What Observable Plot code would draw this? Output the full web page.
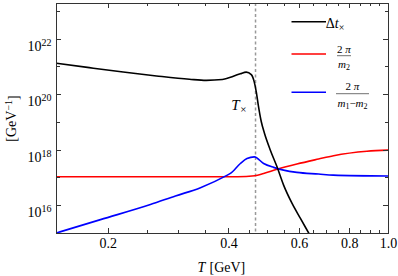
<!DOCTYPE html>
<html><head><meta charset="utf-8">
<script src="https://cdn.jsdelivr.net/npm/d3@7"></script>
<script src="https://cdn.jsdelivr.net/npm/@observablehq/plot@0.6"></script>
<style>body{margin:0;background:#fff}</style>
</head><body><div id="chart"></div>
<script>
// ---- data ----
const Tcross = 0.466;
const TcrossLabelY = 4.2e19;

const dtT = [0.1486, 0.1794, 0.2179, 0.2638, 0.3188, 0.3512, 0.3853, 0.4103, 0.4270, 0.4418, 0.4548, 0.4627, 0.4681, 0.4734, 0.4817, 0.4905, 0.5074, 0.5272, 0.5475, 0.5744, 0.6026, 0.6317, 0.66];
const dtV = [1.35e21, 9.33e20, 6.46e20, 4.68e20, 3.55e20, 3.24e20, 3.47e20, 4.57e20, 5.62e20, 6.46e20, 5.25e20, 2.82e20, 1.23e20, 4.17e19, 1.05e19, 4.07e18, 1.0e18, 2.51e17, 5.5e16, 1.23e16, 3.55e15, 1.07e15, 3.5e14];

const redT = [0.1486, 0.25, 0.35, 0.42, 0.4643, 0.4882, 0.5272, 0.5909, 0.6692, 0.7294, 0.8835, 1.0];
const redV = [1.1e17, 1.1e17, 1.1e17, 1.1e17, 1.2e17, 1.45e17, 2.04e17, 3.16e17, 4.79e17, 6.31e17, 9.12e17, 1.0e18];

const blueT = [0.1486, 0.1913, 0.2548, 0.2942, 0.3397, 0.3964, 0.4034, 0.4271, 0.4437, 0.4628, 0.4882, 0.5171, 0.5475, 0.5909, 0.6692, 0.7282, 1.0];
const blueV = [1.05e15, 3.16e15, 1.10e16, 2.24e16, 4.47e16, 1.26e17, 1.45e17, 3.31e17, 5.01e17, 5.75e17, 3.31e17, 2.40e17, 1.91e17, 1.58e17, 1.38e17, 1.26e17, 1.17e17];

const xMajor = [0.2, 0.4, 0.6, 0.8, 1.0];
const xTickLabels = ["0.2", "0.4", "0.6", "0.8", "1.0"];
const xMinor = [0.25, 0.3, 0.35, 0.45, 0.5, 0.55, 0.65, 0.7, 0.75, 0.85, 0.9, 0.95];
const yLabeled = [1e16, 1e18, 1e20, 1e22];
const yMinor = [1e17, 1e19, 1e21, 1e23];
const xDomain = [0.1486, 1.0];
const yDomain = [1e15, 1.9e23];

// ---- layout ----
const W = 398, H = 276, mL = 56, mR = 10, mT = 3, mB = 43;
const frameCol = "#333";
const serif = '"Liberation Serif", "Times New Roman", Times, serif';

const rows = (T, V) => T.map((t, i) => ({T: t, v: V[i]}));

const svg = Plot.plot({
  width: W, height: H,
  marginLeft: mL, marginRight: mR, marginTop: mT, marginBottom: mB,
  style: {fontFamily: serif, fontSize: "14px", color: "#000", background: "#fff"},
  x: {type: "log", domain: xDomain, axis: null},
  y: {type: "log", domain: yDomain},
  marks: [
    Plot.ruleX([Tcross], {stroke: "#999", strokeWidth: 1.5, strokeDasharray: "3,2.5"}),
    Plot.line(rows(redT, redV), {x: "T", y: "v", stroke: "#ff0000", strokeWidth: 1.6, curve: "monotone-x", clip: true}),
    Plot.line(rows(blueT, blueV), {x: "T", y: "v", stroke: "#0000ff", strokeWidth: 1.6, curve: "monotone-x", clip: true}),
    Plot.line(rows(dtT, dtV), {x: "T", y: "v", stroke: "#000", strokeWidth: 1.6, curve: "monotone-x", clip: true}),
    Plot.text([{x: Tcross, y: TcrossLabelY}], {x: "x", y: "y", text: () => "T", fontStyle: "italic", fontSize: 15, textAnchor: "end", dx: -16}),
    Plot.text([{x: Tcross, y: TcrossLabelY}], {x: "x", y: "y", text: () => "×", fontSize: 11, textAnchor: "end", dx: -9, dy: 4}),
    Plot.frame({stroke: frameCol}),
    // x tick labels
    Plot.text(xMajor, {x: d => d, text: (d, i) => xTickLabels[i], frameAnchor: "bottom", lineAnchor: "top", dy: 5, fontSize: 14, fill: "#000"}),
    // x axis label: italic T, then [GeV]
    Plot.text(["T"], {text: d => d, frameAnchor: "bottom", textAnchor: "start", lineAnchor: "middle", dx: -25, dy: 34, fontSize: 14, fontStyle: "italic", fill: "#000"}),
    Plot.text(["[GeV]"], {text: d => d, frameAnchor: "bottom", textAnchor: "start", lineAnchor: "middle", dx: -13, dy: 34, fontSize: 14, fill: "#000"}),
    Plot.axisY(yLabeled, {tickSize: 0, tickPadding: 5, tickFormat: d => "10^" + Math.round(Math.log10(d)), label: "[GeV-1]", labelAnchor: "center", labelOffset: 50, labelArrow: "none", fontSize: 14})
  ]
});
document.getElementById("chart").appendChild(svg);

const s = d3.select(svg);
const xs = svg.scale("x"), ys = svg.scale("y");
const fx0 = mL, fx1 = W - mR, fy0 = mT, fy1 = H - mB;

// ---- inward frame ticks on all four sides (positions from Plot's scales) ----
const tg = s.append("g").attr("shape-rendering", "crispEdges");
const seg = (x1, y1, x2, y2) => tg.append("path")
  .attr("d", `M${x1},${y1}L${x2},${y2}`)
  .attr("stroke", frameCol).attr("stroke-width", 1.1).attr("fill", "none");
const xt = (vals, len) => vals.forEach(v => {
  const px = Math.round(xs.apply(v)) + 0.5;
  seg(px, fy1, px, fy1 - len);
  seg(px, fy0, px, fy0 + len);
});
const yt = (vals, len) => vals.forEach(v => {
  const py = Math.round(ys.apply(v)) + 0.5;
  seg(fx0, py, fx0 + len, py);
  seg(fx1, py, fx1 - len, py);
});
xt(xMajor, 5); xt(xMinor, 3);
yt(yLabeled, 5); yt(yMinor, 3.5);

// ---- typographic touches: superscripts ----
s.selectAll('g[aria-label="y-axis tick label"] text').each(function () {
  const [b, e] = this.textContent.split("^");
  this.textContent = "";
  d3.select(this).append("tspan").text(b);
  d3.select(this).append("tspan").attr("dy", "-0.5em").attr("font-size", 10).text(e);
  d3.select(this).attr("dy", "0.5em");
});
s.selectAll('g[aria-label="y-axis label"] text').each(function () {
  this.textContent = "";
  d3.select(this).append("tspan").text("[GeV");
  d3.select(this).append("tspan").attr("dy", "-0.45em").attr("font-size", 10).text("−1");
  d3.select(this).append("tspan").attr("dy", "0.45em").text("]");
});

// ---- legend ----
const lg = s.append("g").attr("font-family", serif).attr("fill", "#000");
const lx1 = 291.5, lx2 = 326;
[["#000", 21.7], ["#ff0000", 54], ["#0000ff", 92.3]].forEach(([c, y]) => {
  lg.append("line").attr("x1", lx1).attr("x2", lx2).attr("y1", y).attr("y2", y).attr("stroke", c).attr("stroke-width", 1.6);
});
const t1 = lg.append("text").attr("x", 335).attr("y", 27.5).attr("font-size", 14);
t1.append("tspan").text("Δ");
t1.append("tspan").attr("font-style", "italic").text("t");
t1.append("tspan").attr("font-size", 10).attr("dy", 3).text("×");

function frac(cx, yNum, yBar, yDen, x1, x2, den) {
  const n = lg.append("text").attr("x", cx).attr("y", yNum).attr("font-size", 11).attr("text-anchor", "middle");
  n.append("tspan").text("2 ");
  n.append("tspan").attr("font-style", "italic").text("π");
  lg.append("line").attr("x1", x1).attr("x2", x2).attr("y1", yBar).attr("y2", yBar).attr("stroke", "#333").attr("stroke-width", 0.7);
  const d = lg.append("text").attr("x", cx).attr("y", yDen).attr("font-size", 11).attr("text-anchor", "middle");
  den.forEach(([txt, kind]) => {
    if (kind === "i") d.append("tspan").attr("font-style", "italic").text(txt);
    else if (kind === "sub") d.append("tspan").attr("font-size", 8).attr("dy", 2).text(txt);
    else if (kind === "up") d.append("tspan").attr("dy", -2).text(txt);
  });
}
frac(344, 52.5, 55.7, 68, 337, 351, [["m", "i"], ["2", "sub"]]);
frac(352.5, 90, 93.7, 106.5, 336, 369, [["m", "i"], ["1", "sub"], ["−", "up"], ["m", "i"], ["2", "sub"]]);
</script>
</body></html>
